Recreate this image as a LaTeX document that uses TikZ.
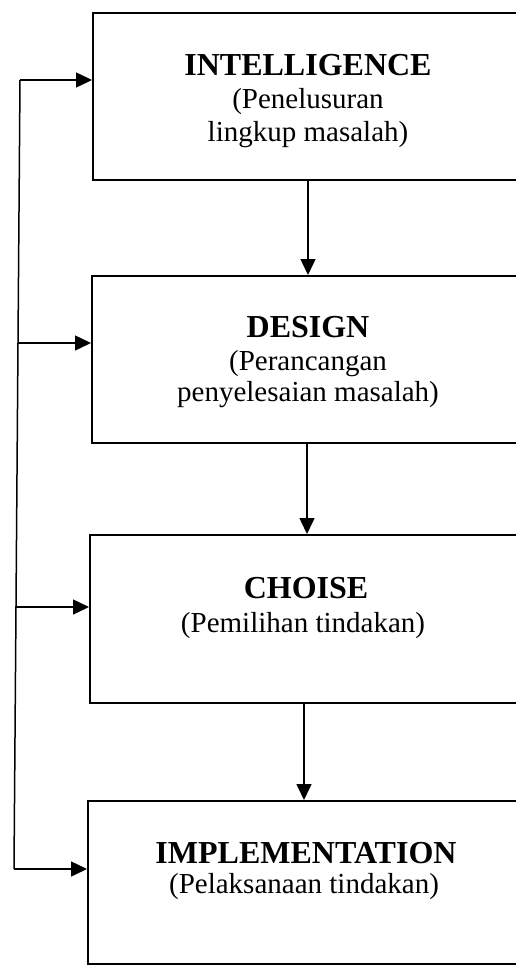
\documentclass[tikz,border=0pt]{standalone}
\usepackage{fontspec}
\setmainfont{Liberation Serif}
\usetikzlibrary{arrows.meta}
\begin{document}
\begin{tikzpicture}[x=1pt,y=-1pt,
  boxline/.style={draw=black,line width=1.9pt},
  conn/.style={draw=black,line width=1.5pt},
  arr/.style={conn,-{Triangle[length=16pt,width=15pt]}},
  ttl/.style={anchor=base,inner sep=0pt,font=\fontsize{32}{36}\selectfont\bfseries},
  sub/.style={anchor=base,inner sep=0pt,font=\fontsize{29}{34}\selectfont}]
\useasboundingbox (0,0) rectangle (515,966);
\fill[white] (0,0) rectangle (515,966);
% boxes
\node[boxline,inner sep=0pt,minimum width=438pt,minimum height=167pt,anchor=north west] (b1) at (92,12) {};
\node[boxline,inner sep=0pt,minimum width=439pt,minimum height=167pt,anchor=north west] (b2) at (91,275) {};
\node[boxline,inner sep=0pt,minimum width=441pt,minimum height=168pt,anchor=north west] (b3) at (89,534) {};
\node[boxline,inner sep=0pt,minimum width=443pt,minimum height=163pt,anchor=north west] (b4) at (87,800) {};
% texts
\node[ttl] (t1) at (308,75) {INTELLIGENCE};
\node[sub] (s1a) at (308,108) {(Penelusuran};
\node[sub] (s1b) at (308,141) {lingkup masalah)};
\node[ttl] (t2) at (308,337) {DESIGN};
\node[sub] (s2a) at (308,370) {(Perancangan};
\node[sub] (s2b) at (308,401) {penyelesaian masalah)};
\node[ttl] (t3) at (306,598) {CHOISE};
\node[sub] (s3a) at (303,632) {(Pemilihan tindakan)};
\node[ttl] (t4) at (306,863) {IMPLEMENTATION};
\node[sub] (s4a) at (304,893) {(Pelaksanaan tindakan)};
% down arrows
\draw[arr] (b1.south west -| 308,0) -- (b2.north west -| 308,0);
\draw[arr] (b2.south west -| 307,0) -- (b3.north west -| 307,0);
\draw[arr] (b3.south west -| 304,0) -- (b4.north west -| 304,0);
% feedback line
\coordinate (l1) at (20,80);
\coordinate (l2) at (18,343);
\coordinate (l3) at (16,607);
\coordinate (l4) at (14,869);
\draw[conn] (l1) -- (l4);
\draw[arr] (l1) -- (l1 -| b1.west);
\draw[arr] (l2) -- (l2 -| b2.west);
\draw[arr] (l3) -- (l3 -| b3.west);
\draw[arr] (l4) -- (l4 -| b4.west);
\end{tikzpicture}
\end{document}
